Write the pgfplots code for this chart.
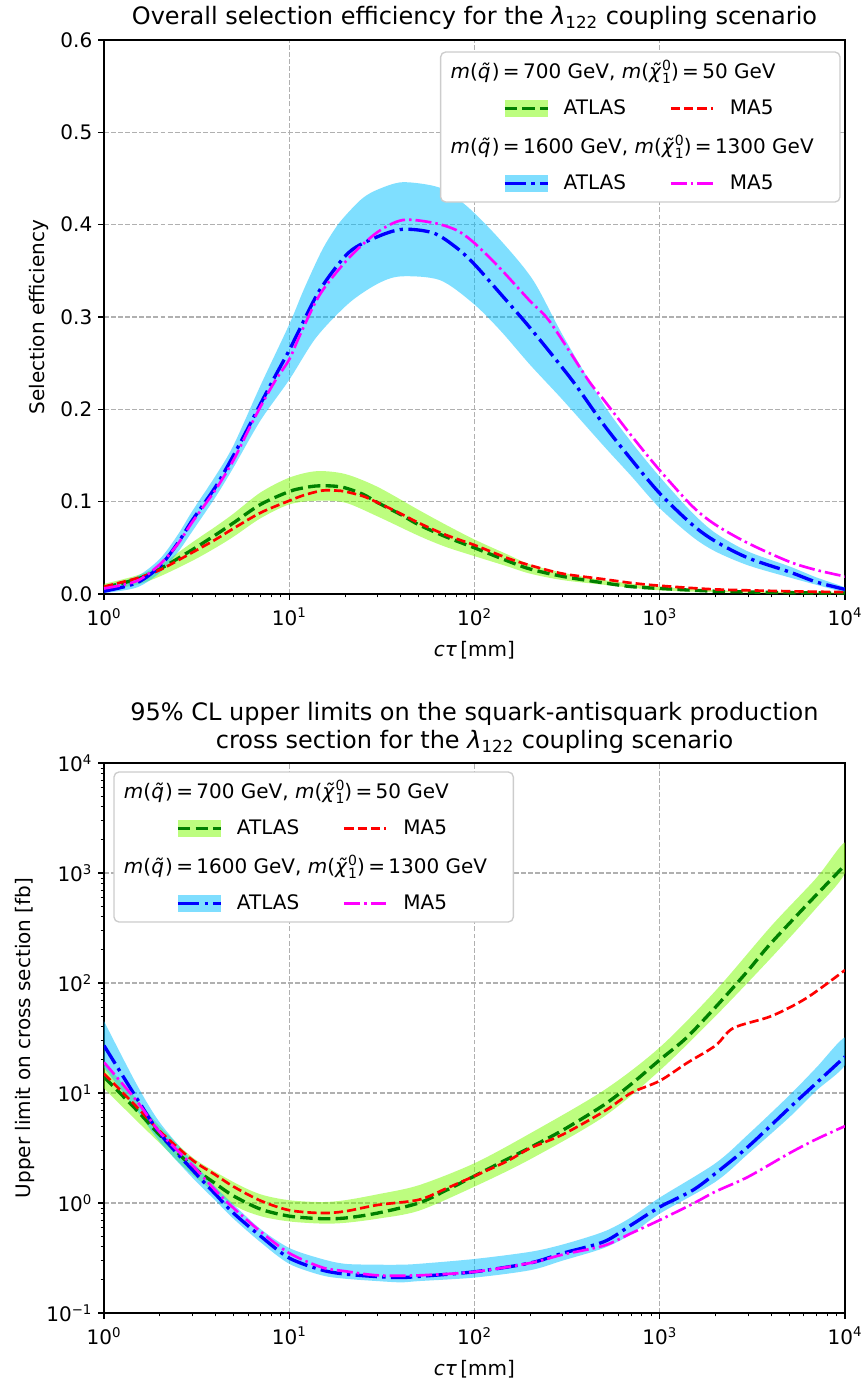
\documentclass[border=0pt]{standalone}
\usepackage{fontspec}
\setmainfont{DejaVu Sans}
\usepackage{pgfplots}
\pgfplotsset{compat=1.18}
\usepackage{pgfplotstable}

\definecolor{lawn}{RGB}{124,252,0}
\definecolor{dsky}{RGB}{0,191,255}
\definecolor{mgreen}{RGB}{0,128,0}
\definecolor{mred}{RGB}{255,0,0}
\definecolor{mblue}{RGB}{0,0,255}
\definecolor{mmag}{RGB}{255,0,255}
\definecolor{gridgray}{RGB}{176,176,176}
\definecolor{leggray}{RGB}{204,204,204}

\newcommand{\fs}{\fontsize{12}{14.4}\selectfont}
\newcommand{\sq}{\textit{\~{q}}}
\newcommand{\chis}{\textit{\~{χ}}\makebox[0pt][l]{\raisebox{0.75ex}{\fontsize{8.4}{9}\selectfont 0}}\raisebox{-0.45ex}{\fontsize{8.4}{9}\selectfont 1}}
\newcommand{\mlab}[2]{\textit{m}(\sq)\,=\,#1 GeV, \textit{m}(\chis)\,=\,#2 GeV}

% ---------- top panel data (bands: upper edge, then lower edge backwards) ----------
\pgfplotstableread{
x y
1 0.011
1.5 0.020
2 0.031
3 0.056
4 0.073
5 0.087
7 0.110
10 0.126
14 0.133
20 0.130
30 0.116
50 0.091
70 0.075
100 0.059
150 0.043
200 0.032
300 0.023
500 0.015
1000 0.008
2000 0.004
5000 0.002
10000 0.0015
10000 0.0004
5000 0.0007
2000 0.002
1000 0.004
500 0.010
300 0.015
200 0.022
150 0.030
100 0.041
70 0.051
50 0.063
30 0.084
20 0.099
14 0.101
10 0.097
7 0.082
5 0.062
4 0.050
3 0.036
2 0.019
1.5 0.010
1 0.004
}\effGband
\pgfplotstableread{
x y
1 0.007
1.5 0.016
2 0.027
3 0.048
4 0.064
5 0.077
7 0.097
10 0.111
12 0.115
14 0.117
17 0.117
20 0.115
25 0.108
30 0.099
40 0.086
50 0.075
70 0.062
100 0.050
150 0.036
200 0.027
300 0.019
500 0.012
700 0.008
1000 0.006
2000 0.003
5000 0.0015
10000 0.001
}\effGline
\pgfplotstableread{
x y
1 0.008
1.5 0.017
2 0.026
3 0.045
4 0.059
5 0.071
7 0.088
10 0.101
12 0.107
15 0.112
18 0.112
20 0.111
25 0.106
30 0.099
40 0.087
50 0.077
70 0.064
100 0.053
150 0.039
200 0.031
300 0.022
500 0.016
700 0.012
1000 0.009
2000 0.005
5000 0.003
10000 0.002
}\effRline
\pgfplotstableread{
x y
1 0.008
1.5 0.019
2 0.038
2.5 0.064
3 0.090
4 0.128
5 0.161
7 0.226
10 0.292
12 0.330
15 0.372
18 0.398
21 0.414
25 0.429
30 0.438
41 0.446
65 0.440
91 0.420
137 0.384
207 0.340
300 0.280
500 0.205
700 0.165
1000 0.127
1500 0.088
2000 0.066
3000 0.046
5000 0.030
7000 0.018
10000 0.007
10000 0.002
7000 0.010
5000 0.018
3000 0.031
2000 0.046
1500 0.062
1000 0.093
700 0.128
500 0.160
300 0.210
200 0.248
137 0.286
98 0.315
65 0.340
40 0.344
30 0.336
21 0.315
14 0.278
10 0.232
7 0.188
5 0.137
4 0.105
3 0.068
2.5 0.045
2 0.023
1.5 0.007
1 0.001
}\effBband
\pgfplotstableread{
x y
1 0.003
1.5 0.012
2 0.030
2.5 0.055
3 0.080
4 0.116
5 0.150
6 0.180
7 0.206
8.4 0.236
10 0.264
11.4 0.287
14.7 0.330
21 0.370
30 0.387
41 0.395
60 0.391
80 0.375
100 0.357
137 0.326
200 0.288
335 0.232
500 0.183
700 0.146
1000 0.109
1500 0.075
2000 0.057
3000 0.039
5000 0.024
7000 0.013
10000 0.005
}\effBline
\pgfplotstableread{
x y
1 0.006
1.5 0.014
2 0.032
2.5 0.054
3 0.078
4 0.113
5 0.145
6 0.177
7 0.203
8.4 0.231
10 0.254
11.4 0.280
14.7 0.325
21 0.364
30 0.392
41 0.405
60 0.402
80 0.394
100 0.380
137 0.353
200 0.317
255 0.295
410 0.232
500 0.210
700 0.172
1000 0.134
1500 0.095
2000 0.075
3000 0.055
5000 0.035
7000 0.026
10000 0.019
}\effMline

% ---------- bottom panel data ----------
\pgfplotstableread{
x y
1 19
1.5 8.8
2 5.0
3 2.6
5 1.55
7 1.2
10 1.06
15 1.02
20 1.06
30 1.2
50 1.45
100 2.3
200 4.3
500 10.6
1000 26
2000 85
4000 330
7000 900
10000 1900
10000 1000
7000 480
4000 170
2000 50
1000 16
500 6.1
200 2.5
100 1.41
50 0.85
30 0.72
20 0.66
15 0.65
10 0.68
7 0.76
5 0.96
3 1.8
2 3.5
1.5 5.6
1 11
}\limGband
\pgfplotstableread{
x y
1 14
1.5 7.0
2 4.15
3 2.14
4 1.5
5 1.16
7 0.88
10 0.76
15 0.72
20 0.73
30 0.81
50 1.0
70 1.3
100 1.76
150 2.5
200 3.2
300 4.6
500 7.8
700 12
1000 20
1400 32
2100 66
3000 130
3900 221
6200 510
10000 1180
}\limGline
\pgfplotstableread{
x y
1 15
1.5 7.5
2 4.5
3 2.46
4 1.8
5 1.41
7 1.05
10 0.86
15 0.81
20 0.84
30 0.96
50 1.07
70 1.35
100 1.76
150 2.4
200 3.15
300 4.2
500 6.8
700 10
1000 12.9
1400 18.7
2000 27
2500 39
4000 50
6200 73
10000 131
}\limRline
\pgfplotstableread{
x y
1 45
1.5 12
2 5.4
3 2.4
4 1.4
5 0.97
7 0.58
10 0.39
15 0.31
20 0.28
30 0.275
40 0.275
50 0.28
100 0.31
200 0.36
300 0.42
500 0.55
700 0.74
1000 1.12
2000 2.3
3000 4.2
5000 9.5
7000 17
10000 32
10000 18
7000 10.5
5000 6
3000 2.8
2000 1.56
1000 0.80
700 0.52
500 0.39
300 0.30
200 0.245
100 0.21
50 0.195
40 0.19
30 0.195
20 0.205
15 0.22
10 0.28
7 0.44
5 0.72
4 1.05
3 1.7
2 3.6
1.5 7
1 17
}\limBband
\pgfplotstableread{
x y
1 27
1.5 9
2 4.3
3 2.0
4 1.2
5 0.81
7 0.5
10 0.316
15 0.246
20 0.226
30 0.214
40 0.21
50 0.215
100 0.237
200 0.285
300 0.35
500 0.445
700 0.63
1000 0.92
1500 1.3
2000 1.86
3000 3.25
5000 7.3
7000 12.3
10000 21.4
}\limBline
\pgfplotstableread{
x y
1 19
1.5 8.5
2 4.4
3 2.2
4 1.3
5 0.90
7 0.55
10 0.35
15 0.26
20 0.24
30 0.22
50 0.22
100 0.237
200 0.285
300 0.34
500 0.41
700 0.53
1000 0.70
1500 0.98
2000 1.27
3000 1.73
5000 2.83
7000 3.8
10000 5.0
}\limMline

\tikzset{
  gline/.style={mgreen, line width=2pt, dash pattern=on 7.4pt off 3.2pt, smooth},
  rline/.style={mred, line width=1.6pt, dash pattern=on 5.55pt off 2.4pt, smooth},
  bline/.style={mblue, line width=2pt, dash pattern=on 12.8pt off 3.2pt on 2pt off 3.2pt, smooth},
  mline/.style={mmag, line width=1.6pt, dash pattern=on 9.6pt off 2.4pt on 1.5pt off 2.4pt, smooth},
}

\pgfplotsset{
  every axis/.append style={
    scale only axis, width=444.6pt,
    xmode=log, xmin=1, xmax=10000,
    xtick={1,10,100,1000,10000},
    xticklabels={10\textsuperscript{0},10\textsuperscript{1},10\textsuperscript{2},10\textsuperscript{3},10\textsuperscript{4}},
    minor xtick={2,3,4,5,6,7,8,9,20,30,40,50,60,70,80,90,200,300,400,500,600,700,800,900,2000,3000,4000,5000,6000,7000,8000,9000},
    tick align=outside, tick pos=left,
    major tick length=3.5pt, minor tick length=2pt,
    every tick/.append style={black},
    major tick style={line width=0.8pt},
    minor tick style={line width=0.6pt},
    axis line style={line width=0.8pt},
    grid=major,
    major grid style={gridgray, line width=0.8pt, dash pattern=on 2.96pt off 1.28pt},
    tick label style={font=\fs},
    xticklabel style={yshift=-1.5pt},
    label style={font=\fs},
    xlabel style={yshift=-2.5pt},
    title style={font=\fontsize{14.4}{16.8}\selectfont, align=center},
    xlabel={\textit{cτ}\,[mm]},
    legend columns=2,
    legend cell align=left,
    legend style={font=\fs, draw=leggray, line width=0.8pt, rounded corners=3pt, fill=white,
      inner sep=0pt, outer sep=0pt, row sep=0pt, column sep=0pt, nodes={inner sep=0pt}},
  },
}

\newcommand{\mylegend}{%
  \addlegendimage{legend image code/.code={\path[draw=none] (0pt,-11.25pt) -- (0pt,11.25pt);
      \node[overlay, draw=none, anchor=west, inner sep=0pt, font=\fs] at (-32.4pt,0pt) {\mlab{700}{50}};}}
  \addlegendentry{\mbox{}}
  \addlegendimage{legend image code/.code={\path[draw=none] (0pt,-11.25pt) -- (0pt,11.25pt);}}
  \addlegendentry{\mbox{}}
  \addlegendimage{legend image code/.code={\path[draw=none] (-38.4pt,-11.25pt) rectangle (35.4pt,11.25pt);
      \fill[lawn, opacity=0.5, draw=none, rounded corners=0pt] (0pt,-5pt) rectangle (25.8pt,5pt);
      \draw[mgreen, line width=2pt, dash pattern=on 7.4pt off 3.2pt] (0pt,0pt) -- (25.8pt,0pt);}}
  \addlegendentry{\makebox[63.6pt][l]{ATLAS}}
  \addlegendimage{legend image code/.code={\path[draw=none] (0pt,-11.25pt) rectangle (35.4pt,11.25pt);
      \draw[mred, line width=1.6pt, dash pattern=on 5.55pt off 2.4pt] (0pt,0pt) -- (25.2pt,0pt);}}
  \addlegendentry{\makebox[66pt][l]{MA5}}
  \addlegendimage{legend image code/.code={\path[draw=none] (0pt,-11.25pt) -- (0pt,11.25pt);
      \node[overlay, draw=none, anchor=west, inner sep=0pt, font=\fs] at (-32.4pt,0pt) {\mlab{1600}{1300}};}}
  \addlegendentry{\mbox{}}
  \addlegendimage{legend image code/.code={\path[draw=none] (0pt,-11.25pt) -- (0pt,11.25pt);}}
  \addlegendentry{\mbox{}}
  \addlegendimage{legend image code/.code={\path[draw=none] (-38.4pt,-11.25pt) rectangle (35.4pt,11.25pt);
      \fill[dsky, opacity=0.5, draw=none, rounded corners=0pt] (0pt,-5pt) rectangle (25.8pt,5pt);
      \draw[mblue, line width=2pt, dash pattern=on 12.8pt off 3.2pt on 2pt off 3.2pt] (0pt,0pt) -- (25.8pt,0pt);}}
  \addlegendentry{\makebox[63.6pt][l]{ATLAS}}
  \addlegendimage{legend image code/.code={\path[draw=none] (0pt,-11.25pt) rectangle (35.4pt,11.25pt);
      \draw[mmag, line width=1.6pt, dash pattern=on 9.6pt off 2.4pt on 1.5pt off 2.4pt] (0pt,0pt) -- (25.2pt,0pt);}}
  \addlegendentry{\makebox[66pt][l]{MA5}}
}

\begin{document}
\begin{tikzpicture}
% ================= top panel =================
\begin{axis}[at={(0pt,0pt)}, anchor=south west, height=332.4pt,
  ymin=0, ymax=0.6, ytick={0,0.1,0.2,0.3,0.4,0.5,0.6},
  yticklabels={0.0,0.1,0.2,0.3,0.4,0.5,0.6},
  ylabel={Selection efficiency},
  title={Overall selection efficiency for the \textit{λ}\textsubscript{122} coupling scenario},
  title style={yshift=-3pt},
  legend style={at={(1,1)}, anchor=north east, xshift=-3pt, yshift=-7.2pt}]
\addplot[fill=lawn, fill opacity=0.5, draw=none, smooth, forget plot] table[x=x,y=y]{\effGband};
\addplot[fill=dsky, fill opacity=0.5, draw=none, smooth, forget plot] table[x=x,y=y]{\effBband};
\addplot[gline, forget plot] table[x=x,y=y]{\effGline};
\addplot[rline, forget plot] table[x=x,y=y]{\effRline};
\addplot[bline, forget plot] table[x=x,y=y]{\effBline};
\addplot[mline, forget plot] table[x=x,y=y]{\effMline};
\mylegend
\end{axis}
% ================= bottom panel =================
\begin{axis}[at={(0pt,-431.4pt)}, anchor=south west, height=330pt,
  ymode=log, ymin=0.1, ymax=10000,
  ytick={0.1,1,10,100,1000,10000},
  yticklabels={10\textsuperscript{−1},10\textsuperscript{0},10\textsuperscript{1},10\textsuperscript{2},10\textsuperscript{3},10\textsuperscript{4}},
  minor ytick={0.2,0.3,0.4,0.5,0.6,0.7,0.8,0.9,2,3,4,5,6,7,8,9,20,30,40,50,60,70,80,90,200,300,400,500,600,700,800,900,2000,3000,4000,5000,6000,7000,8000,9000},
  ylabel={Upper limit on cross section [fb]},
  title={95\% CL upper limits on the squark-antisquark production\\cross section for the \textit{λ}\textsubscript{122} coupling scenario},
  title style={yshift=-3.6pt},
  legend style={at={(0,1)}, anchor=north west, xshift=6pt, yshift=-5.4pt}]
\addplot[fill=lawn, fill opacity=0.5, draw=none, smooth, forget plot] table[x=x,y=y]{\limGband};
\addplot[fill=dsky, fill opacity=0.5, draw=none, smooth, forget plot] table[x=x,y=y]{\limBband};
\addplot[gline, forget plot] table[x=x,y=y]{\limGline};
\addplot[rline, forget plot] table[x=x,y=y]{\limRline};
\addplot[bline, forget plot] table[x=x,y=y]{\limBline};
\addplot[mline, forget plot] table[x=x,y=y]{\limMline};
\mylegend
\end{axis}
\pgfresetboundingbox
\useasboundingbox (-62.4pt,-473.4pt) rectangle (456.6pt,356.4pt);
\end{tikzpicture}
\end{document}
